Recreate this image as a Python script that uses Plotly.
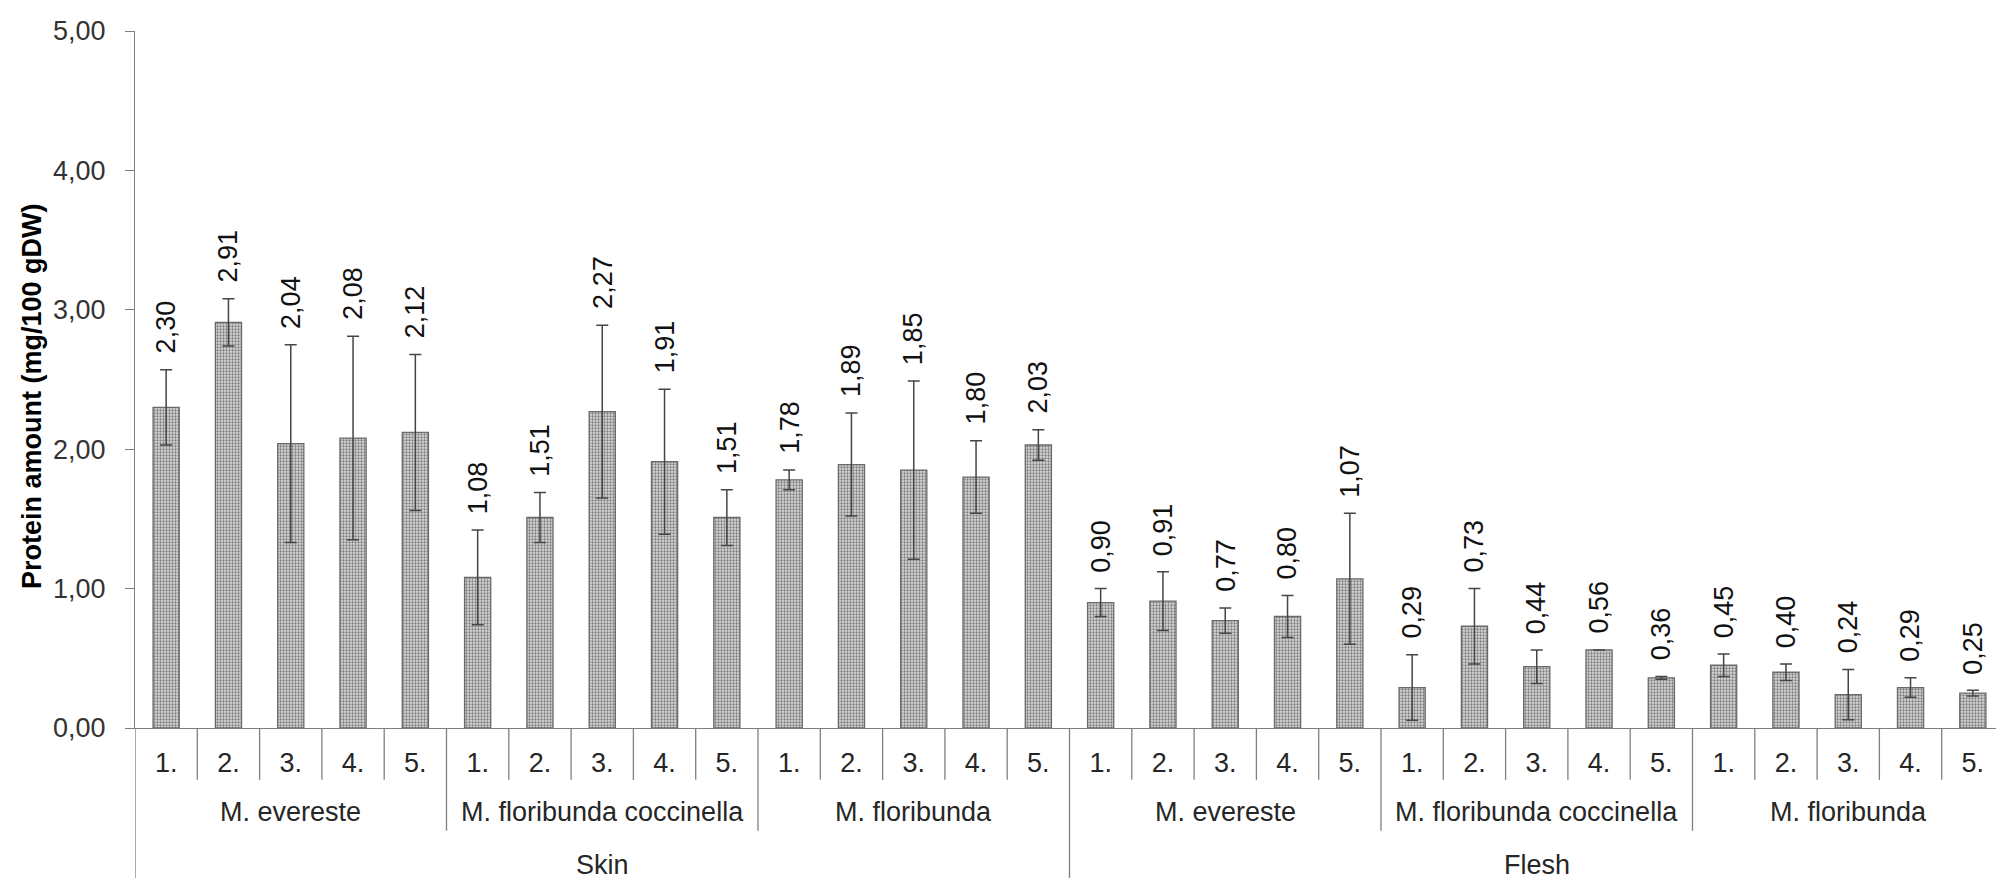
import plotly.graph_objects as go

# ---------------- data ----------------
tissues = ["Skin", "Flesh"]
species = ["M. evereste", "M. floribunda coccinella", "M. floribunda"]
samples = ["1.", "2.", "3.", "4.", "5."]

skin_values = [2.30, 2.91, 2.04, 2.08, 2.12,
               1.08, 1.51, 2.27, 1.91, 1.51,
               1.78, 1.89, 1.85, 1.80, 2.03]
skin_errors = [0.27, 0.17, 0.71, 0.73, 0.56,
               0.34, 0.18, 0.62, 0.52, 0.20,
               0.07, 0.37, 0.64, 0.26, 0.11]
flesh_values = [0.90, 0.91, 0.77, 0.80, 1.07,
                0.29, 0.73, 0.44, 0.56, 0.36,
                0.45, 0.40, 0.24, 0.29, 0.25]
flesh_errors = [0.10, 0.21, 0.09, 0.15, 0.47,
                0.235, 0.27, 0.12, 0.0, 0.01,
                0.08, 0.06, 0.18, 0.07, 0.02]

y_tick_values = [0, 1, 2, 3, 4, 5]
y_tick_labels = ["0,00", "1,00", "2,00", "3,00", "4,00", "5,00"]
y_title = "Protein amount (mg/100 gDW)"

# ---------------- build ----------------
values = skin_values + flesh_values
errors = skin_errors + flesh_errors
n_s = len(samples)
n_sp = len(species)
n_total = len(tissues) * n_sp * n_s
xs = list(range(n_total))
tick_text = [samples[i % n_s] for i in xs]

FONT = "Liberation Sans, Arial, sans-serif"
AXIS_COLOR = "#7f7f7f"

fig = go.Figure()
fig.add_trace(go.Bar(
    x=xs, y=values,
    width=0.42,
    marker=dict(
        color="#bdbdbd",
        line=dict(color="#6a6a6a", width=1.3),
        pattern=dict(shape=".", size=3, solidity=0.45,
                     fgcolor="#7c7c7c", bgcolor="#dadada", fillmode="replace"),
    ),
    error_y=dict(type="data", array=errors, visible=True,
                 color="#454545", thickness=1.5, width=6),
    showlegend=False,
    hoverinfo="skip",
))

# value labels (rotated) above the error bars
annotations = []
for x, v, e in zip(xs, values, errors):
    annotations.append(dict(
        x=x, y=v + e, xref="x", yref="y",
        text=f"{v:.2f}".replace(".", ","),
        textangle=-90, showarrow=False,
        xanchor="center", yanchor="bottom", yshift=14,
        font=dict(family=FONT, size=27, color="#111111"),
    ))

# helper: pixel -> paper y (plot area 21..720 px)
TOP_PX, BOT_PX = 21, 720
def py(px):
    return (BOT_PX - px) / (BOT_PX - TOP_PX)

shapes = []
line_style = dict(color=AXIS_COLOR, width=1.3)
# sample-level dividers
for k in range(1, n_total + 1):
    b = k - 0.5
    if k == n_total:
        bottom = py(772)
    elif k % (n_s * n_sp) == 0:
        bottom = py(900)
    elif k % n_s == 0:
        bottom = py(823)
    else:
        bottom = py(772)
    shapes.append(dict(type="line", xref="x", yref="paper",
                       x0=b, x1=b, y0=0, y1=bottom, line=line_style))
# left border continues to bottom
shapes.append(dict(type="line", xref="x", yref="paper",
                   x0=-0.5, x1=-0.5, y0=0, y1=py(900), line=line_style))

# species labels
for t_i, t in enumerate(tissues):
    for s_i, s in enumerate(species):
        start = (t_i * n_sp + s_i) * n_s
        center = start + (n_s - 1) / 2
        annotations.append(dict(
            x=center, y=py(804), xref="x", yref="paper",
            text=s, showarrow=False, xanchor="center", yanchor="middle",
            font=dict(family=FONT, size=27, color="#262626"),
        ))
    start = t_i * n_sp * n_s
    center = start + (n_sp * n_s - 1) / 2
    annotations.append(dict(
        x=center, y=py(857), xref="x", yref="paper",
        text=t, showarrow=False, xanchor="center", yanchor="middle",
        font=dict(family=FONT, size=27, color="#262626"),
    ))

# y-axis title
annotations.append(dict(
    x=0, xref="paper", xshift=-103, y=py(387), yref="paper",
    text=f"<b>{y_title}</b>", textangle=-90, showarrow=False,
    xanchor="center", yanchor="middle",
    font=dict(family=FONT, size=27, color="#000000"),
))

fig.update_layout(
    width=2004, height=878,
    margin=dict(l=127, r=8, t=21, b=158, pad=0),
    paper_bgcolor="white", plot_bgcolor="white",
    annotations=annotations,
    shapes=shapes,
    font=dict(family=FONT, size=27, color="#262626"),
)
fig.update_xaxes(
    range=[-0.5, n_total - 0.5],
    tickmode="array", tickvals=xs, ticktext=tick_text,
    ticks="", showgrid=False, zeroline=False,
    showline=True, linecolor=AXIS_COLOR, linewidth=1.3,
    tickfont=dict(family=FONT, size=27, color="#262626"),
    ticklabelstandoff=10,
)
fig.update_yaxes(
    range=[0, 5],
    tickmode="array", tickvals=y_tick_values, ticktext=y_tick_labels,
    ticks="outside", ticklen=9, tickcolor=AXIS_COLOR, tickwidth=1.3,
    showgrid=False, zeroline=False,
    showline=True, linecolor=AXIS_COLOR, linewidth=1.3,
    tickfont=dict(family=FONT, size=27, color="#333333"),
    ticklabelstandoff=14,
)

fig.write_html("out.html")
